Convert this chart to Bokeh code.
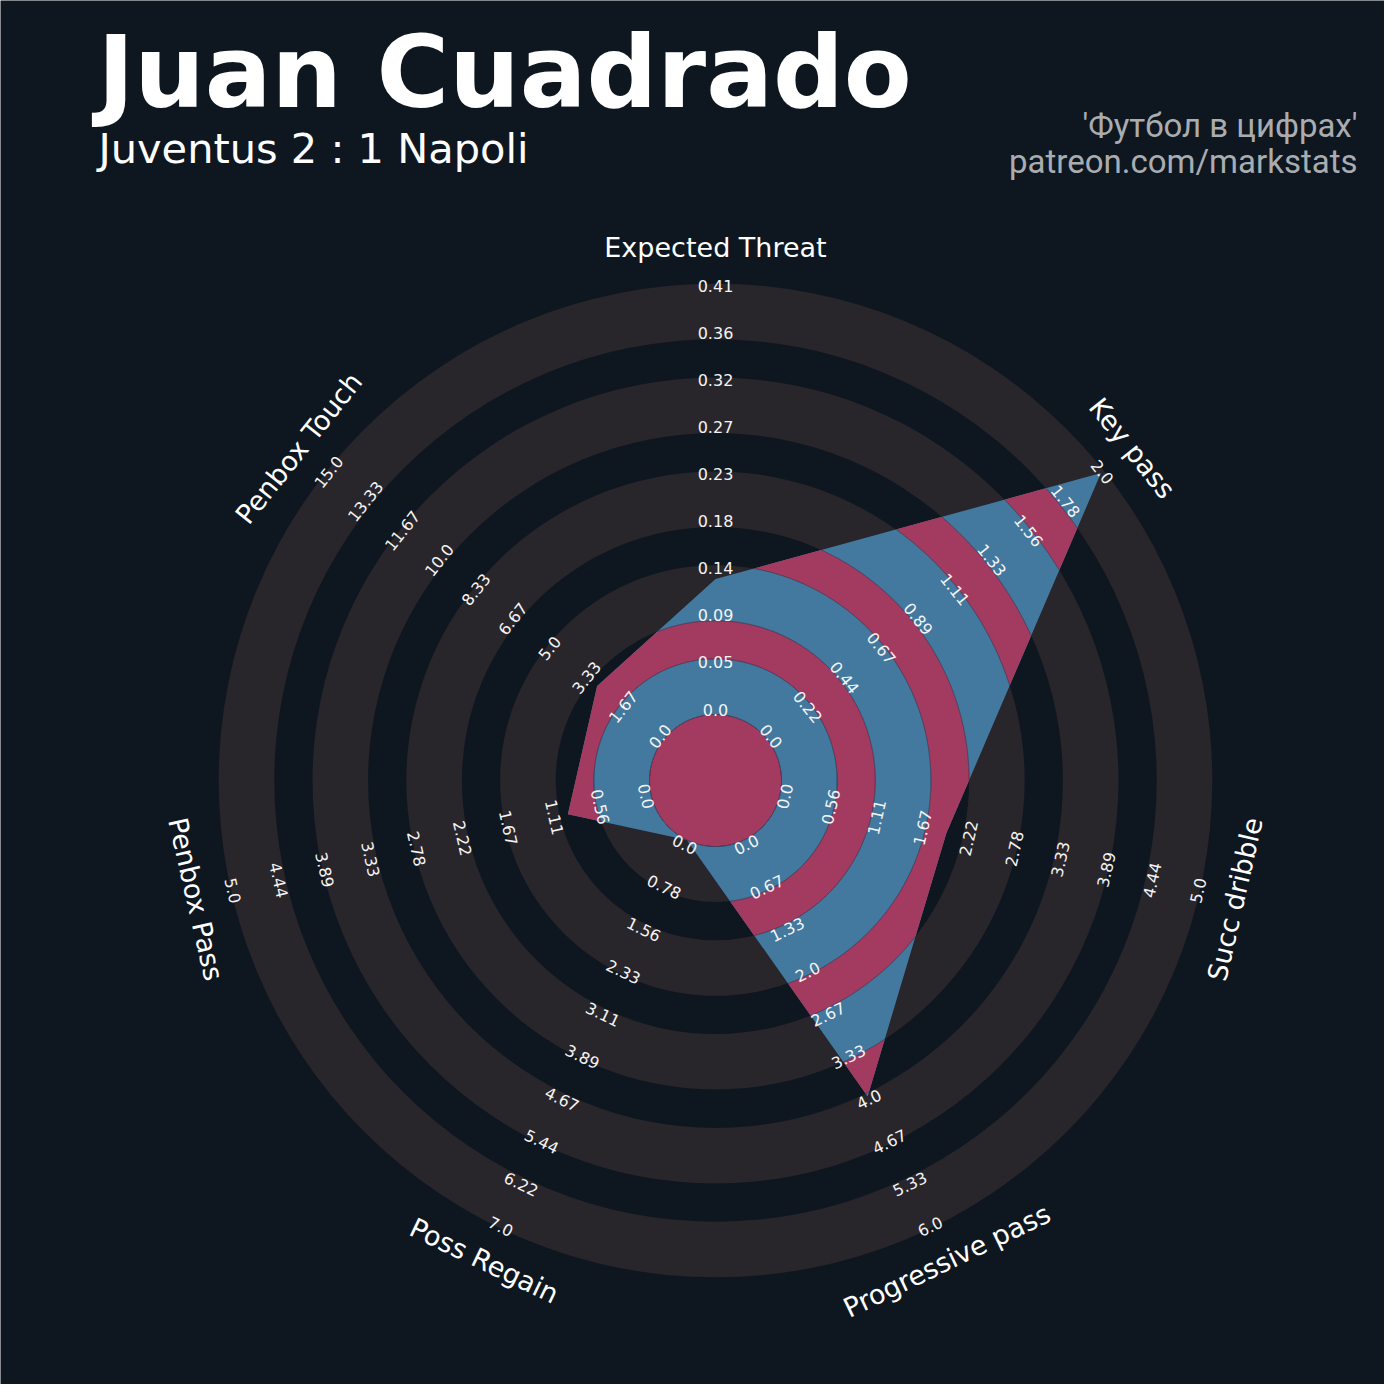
import numpy as np
from bokeh.plotting import figure
from bokeh.models import ColumnDataSource, Range1d, Label
from bokeh.core.properties import value
from bokeh.embed import file_html
from bokeh.resources import INLINE

# ---------------- data ----------------
player = "Juan Cuadrado"
match_line = "Juventus 2 : 1 Napoli"
credit_lines = ["'Футбол в цифрах'", "patreon.com/markstats"]

params = ["Expected Threat", "Key pass", "Succ dribble", "Progressive pass",
          "Poss Regain", "Penbox Pass", "Penbox Touch"]
values = [0.13, 2, 2, 4, 0, 1, 3]
range_lo = [0, 0, 0, 0, 0, 0, 0]
range_hi = [0.41, 2, 5, 6, 7, 5, 15]
tick_labels = [
    ["0.0", "0.05", "0.09", "0.14", "0.18", "0.23", "0.27", "0.32", "0.36", "0.41"],
    ["0.0", "0.22", "0.44", "0.67", "0.89", "1.11", "1.33", "1.56", "1.78", "2.0"],
    ["0.0", "0.56", "1.11", "1.67", "2.22", "2.78", "3.33", "3.89", "4.44", "5.0"],
    ["0.0", "0.67", "1.33", "2.0", "2.67", "3.33", "4.0", "4.67", "5.33", "6.0"],
    ["0.0", "0.78", "1.56", "2.33", "3.11", "3.89", "4.67", "5.44", "6.22", "7.0"],
    ["0.0", "0.56", "1.11", "1.67", "2.22", "2.78", "3.33", "3.89", "4.44", "5.0"],
    ["0.0", "1.67", "3.33", "5.0", "6.67", "8.33", "10.0", "11.67", "13.33", "15.0"],
]

# ---------------- style / layout ----------------
BG = "#0e1720"
RING = "#28252b"
BLUE = "#43789f"
MAGENTA = "#a33b61"
FONT = "DejaVu Sans"

W = H = 1384
PAGE = 1400


def Y(py):  # page pixel row -> data y
    return PAGE - py


CX, CY = 715.0, Y(780)
R_IN = 66.0
GRAY_W, DARK_W = 55.6, 38.2
N_GRAY = 5
VAL_R0, VAL_R1 = 66.0, 493.0
TICK_R0, TICK_STEP = 71.0, 47.1
LABEL_R = 533.0

# ring edges
edges = [R_IN]
for i in range(N_GRAY):
    edges.append(edges[-1] + GRAY_W)
    if i < N_GRAY - 1:
        edges.append(edges[-1] + DARK_W)
gray_bands = [(edges[2 * i], edges[2 * i + 1]) for i in range(N_GRAY)]
dark_bands = [(0.0, R_IN)] + [(edges[2 * i + 1], edges[2 * i + 2]) for i in range(N_GRAY - 1)]

n = len(params)
theta = np.pi / 2 - np.arange(n) * 2 * np.pi / n

p = figure(width=W, height=H, x_range=Range1d(0, W), y_range=Range1d(PAGE - H, PAGE),
           output_backend="svg", toolbar_location=None, min_border=0)
p.background_fill_color = BG
p.border_fill_color = BG
p.outline_line_color = None
p.axis.visible = False
p.grid.visible = False

# background rings
p.annulus(x=[CX] * len(gray_bands), y=[CY] * len(gray_bands),
          inner_radius=[b[0] for b in gray_bands], outer_radius=[b[1] for b in gray_bands],
          fill_color=RING, line_color=None)

# radar polygon
frac = [(v - lo) / (hi - lo) for v, lo, hi in zip(values, range_lo, range_hi)]
rv = np.array([VAL_R0 + f * (VAL_R1 - VAL_R0) for f in frac])
Px = rv * np.cos(theta)
Py = rv * np.sin(theta)
p.patch(x=[float(v) for v in CX + Px], y=[float(v) for v in CY + Py],
        fill_color=BLUE, line_color=None)

# polar radius of polygon boundary
N = 7200
phi = np.pi / 2 - np.arange(N) * 2 * np.pi / N
seg = np.floor((np.pi / 2 - phi) / (2 * np.pi / n)).astype(int) % n
Ax, Ay = Px[seg], Py[seg]
Bx, By = Px[(seg + 1) % n], Py[(seg + 1) % n]
Ex, Ey = Bx - Ax, By - Ay
dx, dy = np.cos(phi), np.sin(phi)
rho = (Ax * Ey - Ay * Ex) / (dx * Ey - dy * Ex)


def runs_of(mask):
    if mask.all():
        return None
    i0 = int(np.argmin(mask))
    idx = np.roll(np.arange(N), -i0)
    m = mask[idx]
    out = []
    i = 0
    while i < N:
        if m[i]:
            j = i
            while j < N and m[j]:
                j += 1
            out.append(idx[i:j])
            i = j
        else:
            i += 1
    return out


mx, my = [], []
for a, b in dark_bands:
    outer = np.minimum(rho, b)
    if a == 0:
        mx.append([[[float(v) for v in CX + outer * dx]]])
        my.append([[[float(v) for v in CY + outer * dy]]])
        continue
    rs = runs_of(rho > a)
    if rs is None:
        mx.append([[[float(v) for v in CX + outer * dx], [float(v) for v in CX + a * dx[::-1]]]])
        my.append([[[float(v) for v in CY + outer * dy], [float(v) for v in CY + a * dy[::-1]]]])
        continue
    for ids in rs:
        xs = np.concatenate([CX + outer[ids] * dx[ids], CX + a * dx[ids][::-1]])
        ys = np.concatenate([CY + outer[ids] * dy[ids], CY + a * dy[ids][::-1]])
        mx.append([[[float(v) for v in xs]]])
        my.append([[[float(v) for v in ys]]])
p.multi_polygons(xs=mx, ys=my, fill_color=MAGENTA, line_color=None)

# thin arcs at band edges inside polygon
lx, ly = [], []
for R in edges[:-1]:
    rs = runs_of(rho > R)
    if rs is None:
        lx.append([float(v) for v in CX + R * np.append(dx, dx[0])])
        ly.append([float(v) for v in CY + R * np.append(dy, dy[0])])
        continue
    for ids in rs:
        lx.append([float(v) for v in CX + R * dx[ids]])
        ly.append([float(v) for v in CY + R * dy[ids]])
p.multi_line(xs=lx, ys=ly, line_color="#1b2633", line_alpha=0.55, line_width=0.8)


def rot(t):
    a = t - np.pi / 2
    while a <= -np.pi / 2 - 1e-9:
        a += np.pi
    while a > np.pi / 2 + 1e-9:
        a -= np.pi
    return float(a)


# tick labels
tx, ty, tt, ta = [], [], [], []
for k in range(n):
    for i, lab in enumerate(tick_labels[k]):
        r = TICK_R0 + TICK_STEP * i
        tx.append(float(CX + r * np.cos(theta[k])))
        ty.append(float(CY + r * np.sin(theta[k])))
        tt.append(lab)
        ta.append(rot(theta[k]))
p.text(x="x", y="y", text="t", angle="a",
       source=ColumnDataSource(dict(x=tx, y=ty, t=tt, a=ta)),
       text_font=value(FONT), text_font_size=value("16px"), text_color="#f4f4f4",
       text_align="center", text_baseline="middle")

# parameter labels
p.text(x="x", y="y", text="t", angle="a",
       source=ColumnDataSource(dict(x=[float(v) for v in CX + LABEL_R * np.cos(theta)],
                                    y=[float(v) for v in CY + LABEL_R * np.sin(theta)],
                                    t=params, a=[rot(t) for t in theta])),
       text_font=value(FONT), text_font_size=value("27px"), text_color="#ffffff",
       text_align="center", text_baseline="middle")

# subtitle and credits (annotations)
p.add_layout(Label(x=98, y=Y(148), text=match_line, text_font=FONT, text_font_size="41.5px",
                   text_color="#ffffff", text_align="left", text_baseline="middle"))
for line, yy in zip(credit_lines, [125, 161]):
    p.add_layout(Label(x=1357, y=Y(yy), text=line, text_font="Roboto", text_font_size="33px",
                       text_color="#aaadb0", text_align="right", text_baseline="middle"))
# title (size avoids the "[1-9]00" pattern that breaks the SVG font parser with bold)
p.add_layout(Label(x=97, y=Y(72), text=player, text_font=FONT, text_font_size="99px",
                   text_font_style="bold", text_color="#ffffff",
                   text_align="left", text_baseline="middle"))

html = file_html(p, INLINE, title="Juan Cuadrado")
html = html.replace("<body>", '<body style="background-color:%s;">' % BG, 1)
open("out.html", "w").write(html)
